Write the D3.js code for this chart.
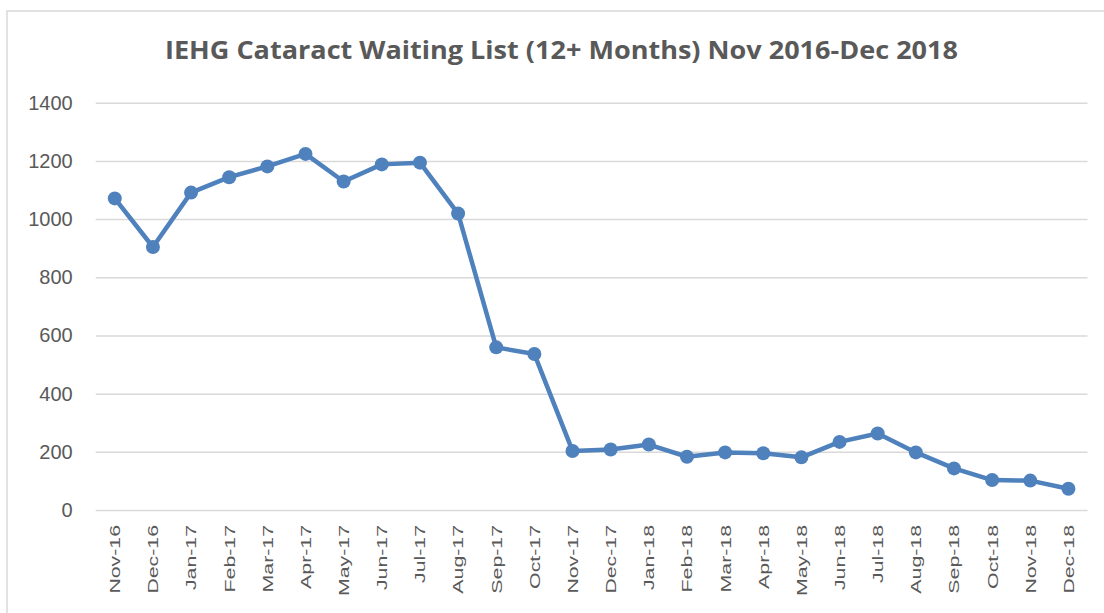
<!DOCTYPE html>
<html>
<head>
<meta charset="utf-8">
<script src="https://cdn.jsdelivr.net/npm/d3@7"></script>
<style>
  html, body { margin: 0; padding: 0; background: #fff; }
  svg { display: block; }
</style>
</head>
<body>
<svg id="chart" width="1104" height="613"></svg>
<script>
// Monthly count of patients waiting 12+ months for cataract surgery
const months = ["Nov-16","Dec-16","Jan-17","Feb-17","Mar-17","Apr-17","May-17","Jun-17","Jul-17",
  "Aug-17","Sep-17","Oct-17","Nov-17","Dec-17","Jan-18","Feb-18","Mar-18","Apr-18","May-18",
  "Jun-18","Jul-18","Aug-18","Sep-18","Oct-18","Nov-18","Dec-18"];
const waiting = [1071, 904, 1091, 1144, 1181, 1224, 1129, 1188, 1194,
  1019, 559, 536, 203, 208, 225, 183, 198, 195, 181,
  234, 263, 198, 143, 103, 101, 73];
const yTicks = [0, 200, 400, 600, 800, 1000, 1200, 1400];
const titleText = "IEHG Cataract Waiting List (12+ Months) Nov 2016-Dec 2018";

const svg = d3.select("#chart");
const W = 1104, H = 613;
const plot = { left: 95.7, right: 1087.5, top: 102.7, bottom: 510 };
const textColor = "#595959";
const gridColor = "#d9d9d9";
const lineColor = "#4f81bd";

// chart frame
svg.append("rect")
  .attr("x", 7).attr("y", 11)
  .attr("width", W).attr("height", H)
  .attr("fill", "#fff")
  .attr("stroke", gridColor).attr("stroke-width", 1.5);

const x = d3.scaleBand().domain(months).range([plot.left, plot.right]);
const y = d3.scaleLinear().domain([0, 1400]).range([plot.bottom, plot.top]);

// horizontal gridlines + y labels
const yAxis = d3.axisLeft(y)
  .tickValues(yTicks)
  .tickFormat(d3.format("d"))
  .tickSize(-(plot.right - plot.left))
  .tickPadding(23);
const gy = svg.append("g").attr("transform", `translate(${plot.left},0)`).call(yAxis);
gy.select(".domain").remove();
gy.selectAll(".tick line").attr("stroke", gridColor).attr("stroke-width", 1.5);
gy.selectAll(".tick text")
  .attr("fill", textColor)
  .style("font-family", "'Liberation Sans', Arial, sans-serif")
  .style("font-size", "20px");

// x labels (rotated)
const xAxis = d3.axisBottom(x).tickSize(0).tickPadding(0);
const gx = svg.append("g").attr("transform", `translate(0,${plot.bottom})`).call(xAxis);
gx.select(".domain").remove();
gx.selectAll(".tick text")
  .attr("fill", textColor)
  .style("font-family", "'Liberation Sans', Arial, sans-serif")
  .style("font-size", "15px")
  .attr("text-anchor", "end")
  .attr("dy", null)
  .attr("y", 0)
  .attr("transform", "translate(5.4,15) rotate(-90) scale(1.42,1)");

// line
const line = d3.line()
  .x((d, i) => x(months[i]) + x.bandwidth() / 2)
  .y(d => y(d));
svg.append("path")
  .datum(waiting)
  .attr("d", line)
  .attr("fill", "none")
  .attr("stroke", lineColor)
  .attr("stroke-width", 4.5)
  .attr("stroke-linejoin", "round");

svg.append("g").selectAll("circle")
  .data(waiting)
  .join("circle")
  .attr("cx", (d, i) => x(months[i]) + x.bandwidth() / 2)
  .attr("cy", d => y(d))
  .attr("r", 7)
  .attr("fill", lineColor);

// title
svg.append("text")
  .attr("x", 561.5).attr("y", 59)
  .attr("text-anchor", "middle")
  .attr("fill", textColor)
  .style("font-family", "'Open Sans', sans-serif")
  .style("font-weight", "700")
  .style("font-size", "25px")
  .attr("textLength", 793)
  .attr("lengthAdjust", "spacingAndGlyphs")
  .text(titleText);
</script>
</body>
</html>
